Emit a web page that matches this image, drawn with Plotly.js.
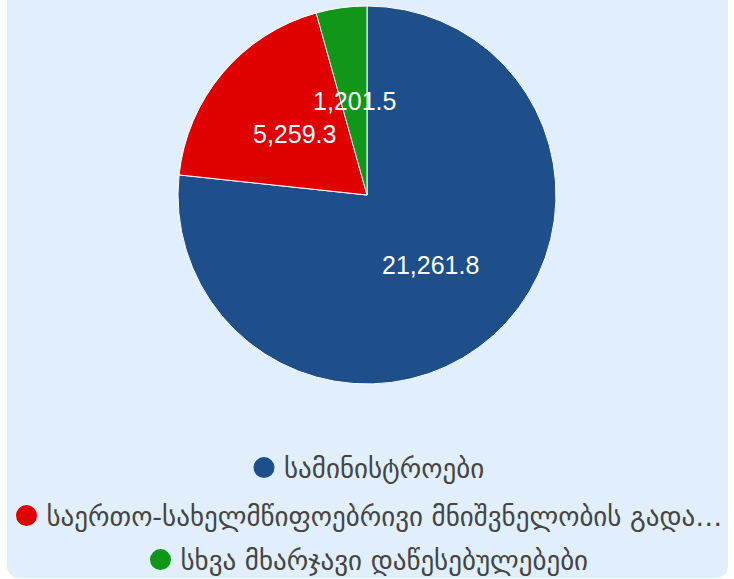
<!DOCTYPE html>
<html>
<head>
<meta charset="utf-8">
<script src="https://cdn.plot.ly/plotly-3.0.1.min.js"></script>
<style>
  html, body { margin: 0; padding: 0; background: #ffffff; }
  #panel { position: absolute; left: 7px; top: -12px; width: 721px; height: 590px;
           background: #e1effd; border-radius: 12px; }
  #chart { position: absolute; left: 0; top: 0; width: 734px; height: 579px; }
</style>
</head>
<body>
<div id="panel"></div>
<div id="chart"></div>
<script>
const categories = [
  "სამინისტროები",
  "საერთო-სახელმწიფოებრივი მნიშვნელობის გადა…",
  "სხვა მხარჯავი დაწესებულებები"
];
const values = [21261.8, 5259.3, 1201.5];
const colors = ["#1e4f8b", "#e00000", "#109618"];

const W = 734, H = 579;
const pieDomain = { x: [0, 1], y: [1 - 384 / H, 1 - 6 / H] };

const traces = [{
  type: "pie",
  labels: categories,
  values: values,
  sort: false,
  direction: "clockwise",
  rotation: 0,
  marker: { colors: colors, line: { color: "#ffffff", width: 1 } },
  textinfo: "none",
  hoverinfo: "label+value+percent",
  showlegend: false,
  domain: pieDomain
}];

const legendNames = ["legend", "legend2", "legend3"];
categories.forEach((c, i) => {
  traces.push({
    type: "scatter",
    mode: "markers",
    x: [null], y: [null],
    name: c,
    legend: legendNames[i],
    marker: { symbol: "circle", size: 16, color: colors[i], line: { color: colors[i], width: 5 } },
    hoverinfo: "skip",
    showlegend: true
  });
});

// value labels placed at half radius along each slice's mid-angle (derived from the data)
const total = values.reduce((a, b) => a + b, 0);
const cx = (pieDomain.x[0] + pieDomain.x[1]) / 2;
const cy = (pieDomain.y[0] + pieDomain.y[1]) / 2;
const rPx = Math.min((pieDomain.x[1] - pieDomain.x[0]) * W, (pieDomain.y[1] - pieDomain.y[0]) * H) / 2;
let cum = 0;
const annotations = values.map(v => {
  const mid = (cum + v / 2) / total * 2 * Math.PI;
  cum += v;
  const r = rPx * 0.5;
  return {
    xref: "paper", yref: "paper",
    x: cx + r * Math.sin(mid) / W,
    y: cy + r * Math.cos(mid) / H,
    xanchor: "center", yanchor: "middle",
    showarrow: false,
    text: v.toLocaleString("en-US", { minimumFractionDigits: 1, maximumFractionDigits: 1 }),
    font: { family: "Liberation Sans, Arial, sans-serif", size: 25, color: "#ffffff" }
  };
});

const legendFont = { family: "DejaVu Sans, sans-serif", size: 27, color: "#444444" };
const legendBase = { xanchor: "center", x: 0.5, yanchor: "middle", bgcolor: "rgba(0,0,0,0)",
                     font: legendFont, itemclick: false, itemdoubleclick: false };

const layout = {
  width: W, height: H,
  margin: { l: 0, r: 0, t: 0, b: 0, autoexpand: false },
  paper_bgcolor: "rgba(0,0,0,0)",
  plot_bgcolor: "rgba(0,0,0,0)",
  xaxis: { visible: false },
  yaxis: { visible: false },
  annotations: annotations,
  legend: Object.assign({}, legendBase, { y: 1 - 468 / H }),
  legend2: Object.assign({}, legendBase, { y: 1 - 516 / H }),
  legend3: Object.assign({}, legendBase, { y: 1 - 560 / H })
};

Plotly.newPlot("chart", traces, layout, { displayModeBar: false });
</script>
</body>
</html>
